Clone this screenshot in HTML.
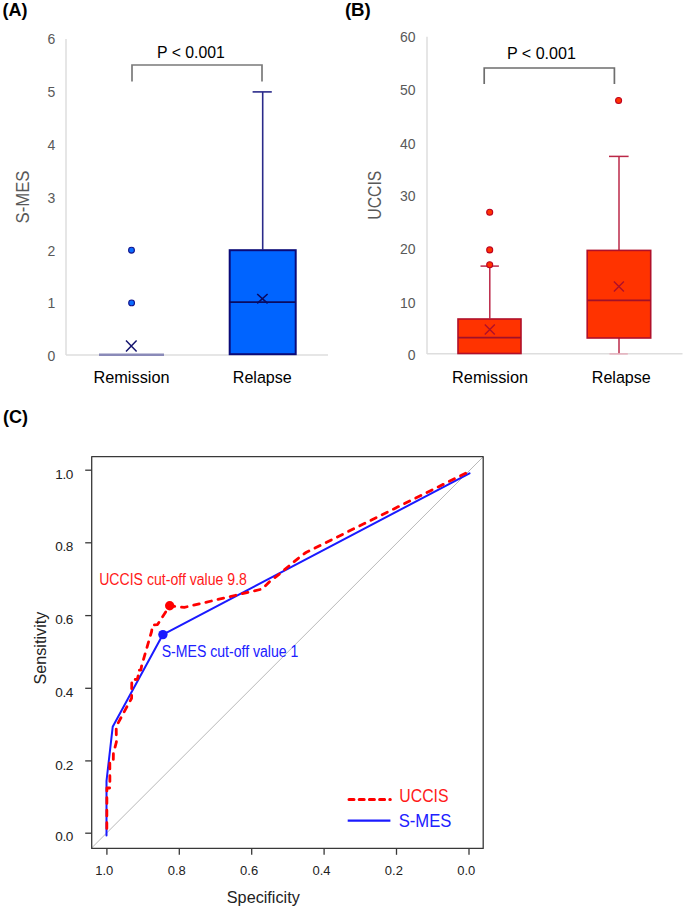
<!DOCTYPE html>
<html><head><meta charset="utf-8">
<style>
html,body{margin:0;padding:0;background:#fff;}
body{width:685px;height:910px;overflow:hidden;}
svg{display:block;font-family:"Liberation Sans",sans-serif;}
</style></head>
<body>
<svg width="685" height="910" viewBox="0 0 685 910">
<rect width="685" height="910" fill="#fff"/>

<!-- ========== PANEL A ========== -->
<text x="2.5" y="15.8" font-size="18" font-weight="bold" fill="#000">(A)</text>
<!-- axis -->
<line x1="66" y1="39" x2="66" y2="355" stroke="#dedede" stroke-width="1.5"/>
<line x1="66" y1="354.9" x2="328" y2="354.9" stroke="#dedede" stroke-width="1.5"/>
<g font-size="14" fill="#595959" text-anchor="end">
<text x="55.3" y="44.4">6</text>
<text x="55.3" y="97.3">5</text>
<text x="55.3" y="150.4">4</text>
<text x="55.3" y="203.3">3</text>
<text x="55.3" y="256.1">2</text>
<text x="55.3" y="308.2">1</text>
<text x="55.3" y="361.3">0</text>
</g>
<text transform="translate(29.1,197) rotate(-90)" font-size="19.2" fill="#595959" text-anchor="middle" textLength="53" lengthAdjust="spacingAndGlyphs">S-MES</text>
<!-- bracket -->
<path d="M132 81.4 V65 H262 V81.4" fill="none" stroke="#7a7a7a" stroke-width="1.7"/>
<text x="157" y="57.6" font-size="16.5" fill="#000" textLength="67.8" lengthAdjust="spacingAndGlyphs">P &lt; 0.001</text>
<!-- remission flat box -->
<line x1="99" y1="354.8" x2="164" y2="354.8" stroke="#8a8ab8" stroke-width="2.6"/>
<circle cx="131.5" cy="250.2" r="2.9" fill="#0a6cff" stroke="#14148c" stroke-width="1.1"/>
<circle cx="131.6" cy="302.9" r="2.9" fill="#0a6cff" stroke="#14148c" stroke-width="1.1"/>
<path d="M126 340.6 L136.6 351.5 M136.6 340.6 L126 351.5" stroke="#14146e" stroke-width="1.5"/>
<!-- relapse box -->
<line x1="262.7" y1="91.9" x2="262.7" y2="249.5" stroke="#2a2a8a" stroke-width="1.6"/>
<line x1="252.6" y1="91.9" x2="271.8" y2="91.9" stroke="#2a2a8a" stroke-width="1.6"/>
<rect x="229.7" y="250.2" width="66" height="104" fill="#0064ff" stroke="#0a0a78" stroke-width="2"/>
<line x1="229.7" y1="302.1" x2="295.7" y2="302.1" stroke="#0a0a60" stroke-width="1.8"/>
<path d="M257.2 294 L267.6 303.4 M267.6 294 L257.2 303.4" stroke="#0a0a60" stroke-width="1.6"/>
<g font-size="17.2" fill="#000">
<text x="93.5" y="383" textLength="76" lengthAdjust="spacingAndGlyphs">Remission</text>
<text x="232.8" y="383" textLength="59" lengthAdjust="spacingAndGlyphs">Relapse</text>
</g>

<!-- ========== PANEL B ========== -->
<text x="344.9" y="15.9" font-size="18.7" font-weight="bold" fill="#000">(B)</text>
<line x1="427" y1="36.8" x2="427" y2="354" stroke="#dedede" stroke-width="1.5"/>
<line x1="427" y1="353.7" x2="682.5" y2="353.7" stroke="#dedede" stroke-width="1.5"/>
<g font-size="14" fill="#595959" text-anchor="end">
<text x="415.6" y="42.2">60</text>
<text x="415.6" y="95.2">50</text>
<text x="415.6" y="148.6">40</text>
<text x="415.6" y="201.3">30</text>
<text x="415.6" y="254.4">20</text>
<text x="415.6" y="307.5">10</text>
<text x="415.6" y="360">0</text>
</g>
<text transform="translate(381.1,195.2) rotate(-90)" font-size="19.2" fill="#595959" text-anchor="middle" textLength="49" lengthAdjust="spacingAndGlyphs">UCCIS</text>
<path d="M484.2 84 V68 H614.4 V84" fill="none" stroke="#6e6e6e" stroke-width="1.7"/>
<text x="506.9" y="58.6" font-size="16.5" fill="#000" textLength="69" lengthAdjust="spacingAndGlyphs">P &lt; 0.001</text>
<!-- remission box B -->
<line x1="489.8" y1="266.1" x2="489.8" y2="318.5" stroke="#bb2848" stroke-width="1.5"/>
<line x1="480.5" y1="266.1" x2="498.9" y2="266.1" stroke="#bb2848" stroke-width="1.5"/>
<rect x="458" y="319" width="63" height="34.5" fill="#ff3300" stroke="#b0102a" stroke-width="1.6"/>
<line x1="458" y1="337.7" x2="521" y2="337.7" stroke="#a0102a" stroke-width="1.8"/>
<path d="M484.8 324.5 L494.8 334.5 M494.8 324.5 L484.8 334.5" stroke="#b0102a" stroke-width="1.4"/>
<g fill="#ff3300" stroke="#c00020" stroke-width="1.1">
<circle cx="489.7" cy="212.3" r="3"/>
<circle cx="489.7" cy="249.9" r="3"/>
<circle cx="489.7" cy="264.7" r="3"/>
</g>
<!-- relapse box B -->
<line x1="619" y1="156.3" x2="619" y2="250" stroke="#bb2848" stroke-width="1.5"/>
<line x1="609" y1="156.4" x2="628.6" y2="156.4" stroke="#bb2848" stroke-width="1.5"/>
<line x1="619" y1="338" x2="619" y2="353.7" stroke="#bb2848" stroke-width="1.5"/>
<line x1="609.5" y1="353.9" x2="627.8" y2="353.9" stroke="#e6b0bd" stroke-width="1.5"/>
<rect x="587.2" y="250.4" width="63.5" height="87.6" fill="#ff3300" stroke="#b0102a" stroke-width="1.6"/>
<line x1="587.2" y1="300.4" x2="650.7" y2="300.4" stroke="#a0102a" stroke-width="1.8"/>
<path d="M613.9 281.6 L623.9 291.6 M623.9 281.6 L613.9 291.6" stroke="#b0102a" stroke-width="1.4"/>
<circle cx="618.6" cy="100.5" r="3" fill="#ff3300" stroke="#c00020" stroke-width="1.1"/>
<g font-size="17.2" fill="#000">
<text x="452.1" y="382.5" textLength="76" lengthAdjust="spacingAndGlyphs">Remission</text>
<text x="591.8" y="383" textLength="59" lengthAdjust="spacingAndGlyphs">Relapse</text>
</g>

<!-- ========== PANEL C ========== -->
<text x="3" y="422.5" font-size="18" font-weight="bold" fill="#000">(C)</text>
<!-- diagonal -->
<line x1="91.4" y1="848.2" x2="483.2" y2="456.8" stroke="#b8b8b8" stroke-width="1"/>
<!-- box -->
<rect x="91.7" y="456.7" width="391.5" height="391.7" fill="none" stroke="#383838" stroke-width="1.3" stroke-linejoin="round"/>
<!-- y ticks -->
<g stroke="#383838" stroke-width="1.3">
<line x1="85.2" y1="470.2" x2="91.7" y2="470.2"/>
<line x1="85.2" y1="542.8" x2="91.7" y2="542.8"/>
<line x1="85.2" y1="615.6" x2="91.7" y2="615.6"/>
<line x1="85.2" y1="688.3" x2="91.7" y2="688.3"/>
<line x1="85.2" y1="760.9" x2="91.7" y2="760.9"/>
<line x1="85.2" y1="833.2" x2="91.7" y2="833.2"/>
<line x1="106.9" y1="848.4" x2="106.9" y2="854.8"/>
<line x1="179.3" y1="848.4" x2="179.3" y2="854.8"/>
<line x1="251.7" y1="848.4" x2="251.7" y2="854.8"/>
<line x1="324.1" y1="848.4" x2="324.1" y2="854.8"/>
<line x1="396.5" y1="848.4" x2="396.5" y2="854.8"/>
<line x1="469" y1="848.4" x2="469" y2="854.8"/>
</g>
<g font-size="13.6" fill="#222" text-anchor="end" lengthAdjust="spacingAndGlyphs">
<text x="73.4" y="479.3" textLength="18.1">1.0</text>
<text x="73.4" y="551" textLength="18.1">0.8</text>
<text x="73.4" y="624" textLength="18.1">0.6</text>
<text x="73.4" y="697" textLength="18.1">0.4</text>
<text x="73.4" y="769.5" textLength="18.1">0.2</text>
<text x="73.4" y="841.3" textLength="18.1">0.0</text>
</g>
<g font-size="13" fill="#222" text-anchor="middle">
<text x="104.3" y="875.2">1.0</text>
<text x="176.7" y="875.2">0.8</text>
<text x="249.1" y="875.2">0.6</text>
<text x="321.5" y="875.2">0.4</text>
<text x="393.9" y="875.2">0.2</text>
<text x="466.3" y="875.2">0.0</text>
</g>
<text x="226.8" y="903" font-size="16.5" fill="#222" textLength="73" lengthAdjust="spacingAndGlyphs">Specificity</text>
<text transform="translate(46,648.1) rotate(-90)" font-size="16.5" fill="#222" text-anchor="middle" textLength="73" lengthAdjust="spacingAndGlyphs">Sensitivity</text>

<!-- blue curve S-MES -->
<polyline points="106.5,835.6 106.5,781 112.7,726.8 162.9,634.6 469.5,473.3" fill="none" stroke="#1a1aff" stroke-width="2" stroke-linejoin="round" stroke-linecap="round"/>
<!-- red curve UCCIS -->
<polyline points="106.8,833 106.9,788 109.9,788 109.8,761.2 113.3,760.6 113.4,753.5 116.4,742 116.2,726.5 119.3,720.8 126.6,707.3 131.6,698.3 131.8,679.6 137.3,679.4 138.5,674.6 138.3,670.2 140.9,670 141.6,666 151.6,631.5 152.5,625 157.5,624.6 169.7,605.7 184.3,607.4 262.2,589 269.8,581.4 279.7,573.8 290.2,565 300.7,556.3 306,552.5 469.6,471.3" fill="none" stroke="#ff0000" stroke-width="2.8" stroke-dasharray="5.7 6.8" stroke-dashoffset="-4.55" stroke-linejoin="round" stroke-linecap="round"/>
<circle cx="162.9" cy="634.6" r="4.7" fill="#1a1aff"/>
<circle cx="169.7" cy="605.7" r="4.7" fill="#ff0000"/>
<text x="99.2" y="584.8" font-size="15.6" fill="#ff1a1a" textLength="147.7" lengthAdjust="spacingAndGlyphs">UCCIS cut-off value 9.8</text>
<text x="161.7" y="656.6" font-size="15.6" fill="#2020ff" textLength="136.7" lengthAdjust="spacingAndGlyphs">S-MES cut-off value 1</text>
<!-- legend -->
<line x1="349" y1="799.4" x2="390.3" y2="799.4" stroke="#ff0000" stroke-width="3" stroke-dasharray="5 5.2" stroke-linecap="round"/>
<line x1="347.7" y1="820.7" x2="390.4" y2="820.7" stroke="#1a1aff" stroke-width="2.2"/>
<text x="399.3" y="802.3" font-size="18" fill="#ff1a1a" textLength="49.3" lengthAdjust="spacingAndGlyphs">UCCIS</text>
<text x="398.7" y="826.9" font-size="18" fill="#2020ff" textLength="52.8" lengthAdjust="spacingAndGlyphs">S-MES</text>
</svg>
</body></html>
